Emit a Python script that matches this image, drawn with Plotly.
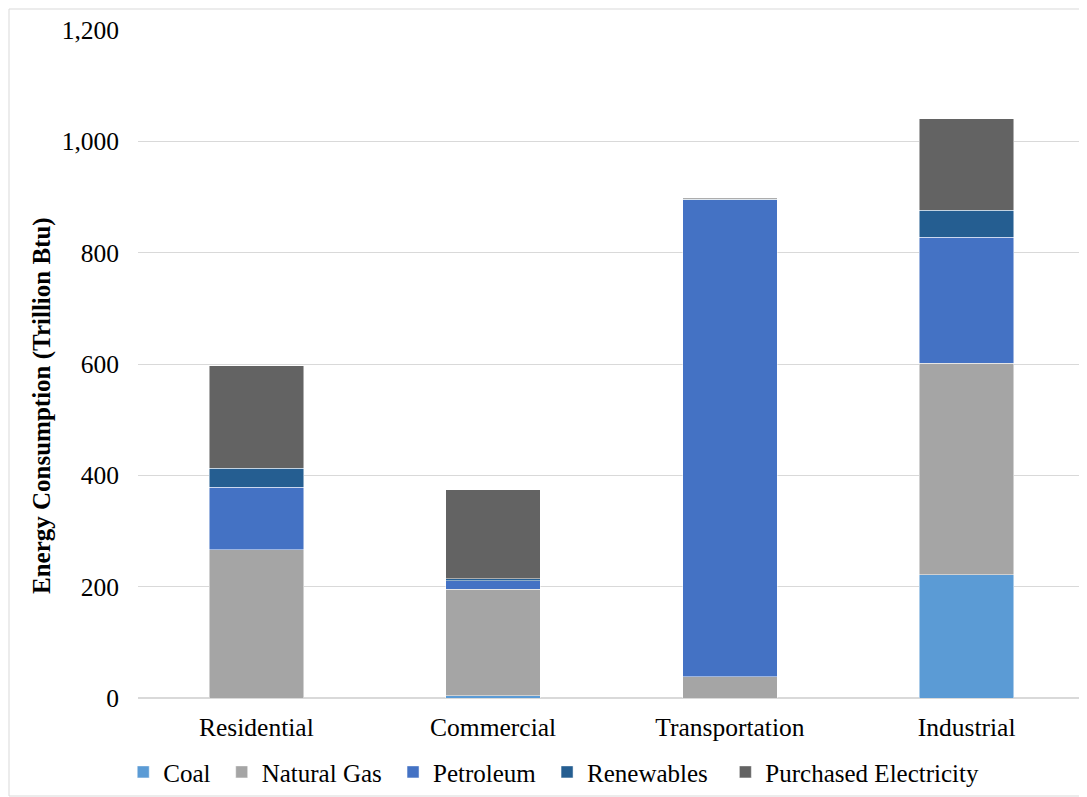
import plotly.graph_objects as go

sectors = ["Residential", "Commercial", "Transportation", "Industrial"]

coal = [0, 4, 0, 221]
natural_gas = [266, 191, 38, 380]
petroleum = [113, 16, 857, 227]
renewables = [34, 3, 1, 48]
purchased_electricity = [184, 160, 2, 165]

# trailing nbsp's widen the gaps between legend entries like in the original
series = [
    ("Coal\u00a0", coal, "#5B9BD5"),
    ("Natural Gas\u00a0", natural_gas, "#A5A5A5"),
    ("Petroleum\u00a0", petroleum, "#4472C4"),
    ("Renewables\u00a0\u00a0", renewables, "#255E91"),
    ("Purchased Electricity", purchased_electricity, "#636363"),
]

fig = go.Figure()
for name, vals, col in series:
    fig.add_trace(
        go.Bar(
            x=sectors,
            y=vals,
            name=name,
            marker=dict(color=col, line=dict(color="rgba(255,255,255,0.6)", width=0.8)),
            width=0.4,
        )
    )

font = "Liberation Serif, Times New Roman, serif"

# page has an 8px body margin, so the figure is a bit smaller than the window
fig.update_layout(
    barmode="stack",
    width=1079,
    height=789,
    margin=dict(l=130, r=2, t=22, b=99),
    paper_bgcolor="white",
    plot_bgcolor="white",
    font=dict(family=font, size=25.5, color="black"),
    legend=dict(
        orientation="h",
        x=0.439,
        xanchor="center",
        y=-0.111,
        yanchor="middle",
        font=dict(family=font, size=25, color="black"),
        traceorder="normal",
        itemwidth=30,
    ),
    yaxis=dict(
        range=[0, 1200],
        dtick=200,
        tickformat=",",
        gridcolor="#D9D9D9",
        gridwidth=1,
        zeroline=True,
        zerolinecolor="#D9D9D9",
        ticks="",
        ticklabelstandoff=18,
    ),
    xaxis=dict(
        showgrid=False,
        ticks="",
        ticklabelstandoff=11,
    ),
    annotations=[
        dict(
            text="<b>Energy Consumption (Trillion Btu)</b>",
            textangle=-90,
            xref="paper",
            yref="paper",
            x=-96 / 947,
            y=(690 - 398) / 668,
            xanchor="center",
            yanchor="middle",
            showarrow=False,
            font=dict(family=font, size=25, color="black"),
        )
    ],
    shapes=[
        dict(
            type="rect",
            xref="paper",
            yref="paper",
            x0=-129 / 947,
            x1=1 + 1 / 947,
            y0=-98 / 668,
            y1=1 + 21 / 668,
            line=dict(color="#D9D9D9", width=1),
        )
    ],
)

fig.write_html("out.html")
